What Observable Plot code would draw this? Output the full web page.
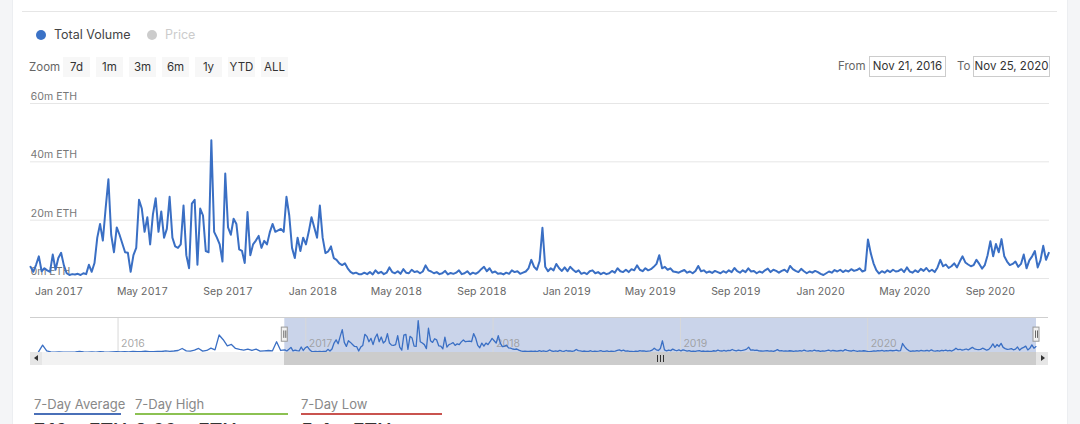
<!DOCTYPE html>
<html>
<head>
<meta charset="utf-8">
<script src="https://cdn.jsdelivr.net/npm/d3@7"></script>
<script src="https://cdn.jsdelivr.net/npm/@observablehq/plot@0.6"></script>
<style>
html,body{margin:0;padding:0;}
body{width:1080px;height:424px;overflow:hidden;position:relative;background:#fff;font-family:Inter,"Open Sans",sans-serif;}
.abs{position:absolute;}
#bgL{left:0;top:0;width:12px;height:424px;background:#f4f5f7;border-right:1px solid #eceef1;}
#bgR{left:1067px;top:0;width:13px;height:424px;background:#f4f5f7;border-left:1px solid #eceef1;}
#topline{left:22px;top:11px;width:1035px;height:1px;background:#e6e6e6;}
.dot{width:10px;height:10px;border-radius:50%;}
.lg{font-size:12.5px;line-height:16px;}
.btn{top:57px;height:20px;width:27px;background:#f7f7f7;font-size:11.5px;line-height:20px;text-align:center;color:#333;}
.lbl{font-size:11.5px;color:#666;line-height:20px;top:55px;}
.box{top:56px;height:19px;width:75px;border:1px solid #cccccc;font-size:11.5px;line-height:19px;text-align:center;color:#333;background:#fff;}
.bl{font-size:13px;color:#888;top:396px;line-height:16px;}
.ul{top:413px;height:2px;}
.big{font-size:19px;font-weight:600;color:#333;top:419px;line-height:24px;}
#main{left:0;top:90px;}
#nav{left:0;top:310px;}
</style>
</head>
<body>
<div id="bgL" class="abs"></div>
<div id="bgR" class="abs"></div>
<div id="topline" class="abs"></div>

<div class="abs dot" style="left:36px;top:30px;background:#3b72c6"></div>
<div class="abs lg" style="left:54px;top:27px;color:#444">Total Volume</div>
<div class="abs dot" style="left:147px;top:30px;background:#cccccc"></div>
<div class="abs lg" style="left:165px;top:27px;color:#cccccc">Price</div>

<div class="abs lbl" style="left:29px;top:57px">Zoom</div>
<div id="buttons"></div>

<div class="abs lbl" style="left:838px;top:56px">From</div>
<div class="abs box" id="fromBox" style="left:869px"></div>
<div class="abs lbl" style="left:957px;top:56px">To</div>
<div class="abs box" id="toBox" style="left:973px"></div>

<div id="main" class="abs"></div>
<div id="nav" class="abs"></div>
<div id="navDeco"></div>

<div id="bottomLegend"></div>

<script>
// ---------- data ----------
const rangeFrom = "2016-11-21";
const rangeTo = "2020-11-25";
const navFrom = "2015-07-30";
const stepDays = 4;      // main series sampling
const navStepDays = 8;   // early (pre-range) navigator series sampling

// Total volume, millions of ETH, every 4 days from Nov 21, 2016
const volume = [
  4, 2.3, 4.7, 7.6, 2.5, 3.5, 2.8, 2.3, 8.2, 3,
  7, 8.8, 4.5, 1.8, 1.2, 1.5, 1.4, 1.6, 1.2, 1.8,
  1.5, 4.7, 2.3, 5.3, 14, 18.7, 13, 24, 34, 15,
  9, 17.5, 15, 12, 9, 8.8, 2.3, 8, 10.5, 27,
  24, 16, 21, 11.7, 22, 27.5, 16, 23, 14, 17,
  28, 14, 11, 10.5, 11.7, 25, 8, 3.5, 25.7, 27,
  4.7, 24, 21.6, 9.4, 9, 47.4, 16, 14, 11.7, 5.8,
  36, 17.5, 15, 20.5, 18.7, 10, 9.5, 5.3, 22.8, 8,
  11.7, 13, 14.6, 10.5, 12.9, 11.7, 15.8, 18.7, 16, 16.5,
  17, 16, 28, 21.6, 10.5, 7, 14, 9.4, 14, 11.7,
  16, 21, 17.5, 14, 25, 14, 8.7, 9.3, 11, 7,
  6.4, 5.2, 4.6, 5.2, 3.5, 2.3, 1.7, 2, 1.5,
  1.5, 2, 1.5, 2.2, 1.4, 2.8, 1.8, 2.3, 1.5, 2,
  3.8, 2.2, 1.8, 2.5, 1.6, 3.2, 2, 1.8, 3, 2.2,
  2.5, 1.8, 2.4, 4.5, 2.8, 2.4, 1.8, 2.2, 1.5, 1.8,
  2.6, 1.4, 1.9, 1.6, 2, 2.8, 1.5, 1.8, 2.5, 1.4,
  2, 1.6, 2.2, 3.2, 4, 2.5, 3.5, 2, 2.4, 1.6,
  1.8, 1.4, 2, 1.6, 2.8, 2.2, 2.5, 1.6, 2, 2.4,
  3.5, 6.4, 4, 3, 6, 17.4, 4, 2.5, 3.5, 2.8,
  5, 3.5, 2.6, 3.8, 2.5, 4, 3, 2.2, 2.8, 1.6,
  2, 1.5, 2.5, 2.8, 1.8, 2.2, 1.5, 2, 1.5, 1.8,
  2.6, 2, 3.5, 2.5, 2.2, 3, 2.2, 3.2, 2.8, 4.5,
  3, 2.5, 3.5, 2.8, 3.2, 4, 5, 8, 3.5, 4,
  3, 3.5, 2.4, 2.2, 2,
  2.5, 2.9, 2, 2.4, 1.8, 2.6, 4.3, 2.5, 2.8, 2,
  2.4, 1.9, 2.6, 2.2, 1.8, 2.5, 2.0, 2.8, 2.2, 3.6,
  2.5, 2.0, 2.8, 2.2, 3.5, 2.4, 2.6, 1.8, 2.4, 2.0,
  2.8, 3.4, 2.2, 3.0, 2.6, 2.0, 2.6, 3.0, 2.2, 4.3,
  3.2, 2.6, 2.2, 3.3, 2.5, 1.8, 2.4, 2.0, 2.6, 2.2,
  1.6, 1.2, 1.8, 2.4, 2.0, 2.9, 2.4, 3.0, 2.2, 2.8,
  2.4, 3.2, 2.6, 2.9, 3.5, 2.4, 2.8, 13.4, 8.7, 5.2,
  2.9, 1.7, 2.5, 2.0, 2.8, 2.2, 3.0, 2.4, 2.6, 3.2,
  2.2, 3.8, 2.4, 2.0, 2.8, 2.2, 3.3, 2.6, 3.6, 2.4,
  3.0, 2.2, 3.8, 6.4, 4.2, 4.8, 3.6, 4.2, 5.2, 3.8,
  5.8, 7.6, 5.5, 4.8, 4.2, 4.6, 6.4, 5.0, 3.4, 4.6,
  8.0, 12.8, 7.6, 11.8, 9.0, 13.5, 7.6, 5.8, 4.6, 5.0,
  5.8, 4.0, 5.0, 8.2, 3.5, 6.2, 7.6, 9.4, 3.8, 6.2,
  11.2, 6.4, 8.8
];

// Navigator only: volume before the selected range, every 8 days from Jul 30, 2015
const earlyVolume = [
  1.0, 11, 2.5, 1.0, 0.6, 0.8, 0.5, 0.7, 0.6, 1.0,
  1.8, 0.8, 0.6, 0.9, 0.7, 1.2, 0.8, 0.6, 1.0, 1.4,
  1.0, 1.2, 0.9, 1.5, 1.1, 1.3, 2.0, 1.4, 1.2, 1.8,
  1.5, 2.5, 1.8, 2.2, 3.0, 6.0, 2.5, 2.0, 3.5, 6.0,
  2.0, 3.0, 6.5, 4.0, 26, 19, 10, 12, 6, 4.5,
  3.5, 5, 3, 5, 2, 2.5, 3, 2.5, 16, 3
];

const yTicks = [0, 20, 40, 60];
const xTickDates = ["2017-01-01","2017-05-01","2017-09-01","2018-01-01","2018-05-01","2018-09-01",
                    "2019-01-01","2019-05-01","2019-09-01","2020-01-01","2020-05-01","2020-09-01"];
const navYears = ["2016-01-01","2017-01-01","2018-01-01","2019-01-01","2020-01-01"];
const zoomButtons = ["7d","1m","3m","6m","1y","YTD","ALL"];
const statLabels = ["7-Day Average","7-Day High","7-Day Low"];
const statValues = ["7.16m ETH","9.66m ETH","5.4m ETH"];
const statColors = ["#4a70b8","#8cc152","#c9534f"];

// ---------- build ----------
const DAY = 864e5;
const t0 = new Date(rangeFrom), t1 = new Date(rangeTo), tn = new Date(navFrom);
const data = volume.map((v, i) => ({date: new Date(+t0 + i * stepDays * DAY), value: v}));
const navData = earlyVolume.map((v, i) => ({date: new Date(+tn + i * navStepDays * DAY), value: v})).concat(data);
const blue = "#3a6fc4";
const fmtBox = d3.utcFormat("%b %-d, %Y");

document.getElementById("fromBox").textContent = fmtBox(t0);
document.getElementById("toBox").textContent = fmtBox(t1);

const btns = document.getElementById("buttons");
zoomButtons.forEach((b, i) => {
  const el = document.createElement("div");
  el.className = "abs btn";
  el.style.left = (63 + i * 33) + "px";
  el.textContent = b;
  btns.appendChild(el);
});

const main = Plot.plot({
  width: 1080, height: 210,
  marginLeft: 30, marginRight: 31, marginTop: 13, marginBottom: 22,
  x: {type: "utc", domain: [t0, t1]},
  y: {domain: [0, 60]},
  style: {fontFamily: "Inter, sans-serif", fontSize: "10.5px", color: "#666", background: "transparent", overflow: "visible"},
  marks: [
    Plot.gridY(yTicks, {stroke: "#e6e6e6", strokeOpacity: 1}),
    Plot.axisY(yTicks, {tickSize: 0, tickPadding: 0, textAnchor: "start", dy: -7, fill: "#777",
                        tickFormat: d => `${d}m ETH`, label: null}),
    Plot.axisX(xTickDates.map(d => new Date(d)), {tickSize: 0, tickPadding: 9, fill: "#666",
                        tickFormat: d3.utcFormat("%b %Y"), label: null}),
    Plot.lineY(data, {x: "date", y: "value", stroke: blue, strokeWidth: 2, strokeLinejoin: "round"})
  ]
});
document.getElementById("main").appendChild(main);

const handles = [t0, t1];
const nav = Plot.plot({
  width: 1080, height: 50,
  marginLeft: 38, marginRight: 44, marginTop: 7, marginBottom: 8,
  x: {type: "utc", domain: [tn, t1]},
  y: {domain: [0, 52]},
  style: {fontFamily: "Inter, sans-serif", fontSize: "10.5px", color: "#999", background: "transparent", overflow: "visible"},
  axis: null,
  marks: [
    Plot.rect([{a: t0, b: t1}], {x1: "a", x2: "b", fill: "#6685c2", fillOpacity: 0.35}),
    Plot.ruleX(navYears.map(d => new Date(d)), {stroke: "#d8d8d8"}),
    Plot.text(navYears.map(d => new Date(d)), {x: d => d, text: d => String(d.getUTCFullYear()),
              frameAnchor: "bottom", dy: -6, dx: 3, textAnchor: "start", fill: "#999", fillOpacity: 0.85}),
    Plot.lineY(navData, {x: "date", y: "value", stroke: blue, strokeWidth: 1.3}),
    Plot.rect(handles, {x1: d => d, x2: d => d, y1: 16, y2: 37, insetLeft: -3, insetRight: -3,
              fill: "#f2f2f2", stroke: "#999", strokeWidth: 1}),
    Plot.ruleX(handles, {x: d => d, y1: 21, y2: 32, dx: -1, stroke: "#444", strokeWidth: 0.8}),
    Plot.ruleX(handles, {x: d => d, y1: 21, y2: 32, dx: 1, stroke: "#444", strokeWidth: 0.8})
  ]
});
document.getElementById("nav").appendChild(nav);

// navigator outline and scrollbar, positioned from the navigator's x scale
const nx = nav.scale("x");
const xa = nx.apply(t0), xb = nx.apply(t1);
const deco = document.getElementById("navDeco");
function box(css) { const el = document.createElement("div"); el.className = "abs"; el.style.cssText = css; deco.appendChild(el); return el; }
box(`left:30px;top:317px;width:1018px;height:1px;background:#cfcfcf;`);
box(`left:30px;top:352px;width:1018px;height:13px;background:#f2f2f2;`);
box(`left:${xa}px;top:352px;width:${xb - xa}px;height:13px;background:#cccccc;`);
box(`left:30px;top:352px;width:12px;height:13px;background:#e6e6e6;`);
box(`left:1036px;top:352px;width:12px;height:13px;background:#e6e6e6;`);
box(`left:34px;top:355px;width:0;height:0;border-top:3.5px solid transparent;border-bottom:3.5px solid transparent;border-right:4px solid #333;`);
box(`left:1041px;top:355px;width:0;height:0;border-top:3.5px solid transparent;border-bottom:3.5px solid transparent;border-left:4px solid #333;`);
const gx = (xa + xb) / 2;
[-3, 0, 3].forEach(o => box(`left:${gx + o - 0.5}px;top:355px;width:1px;height:7px;background:#333;`));

// bottom stats legend
const bl = document.getElementById("bottomLegend");
const lefts = [34, 135, 301], widths = [87, 153, 141];
statLabels.forEach((s, i) => {
  const t = document.createElement("div"); t.className = "abs bl"; t.style.left = lefts[i] + "px"; t.textContent = s; bl.appendChild(t);
  const u = document.createElement("div"); u.className = "abs ul"; u.style.left = lefts[i] + "px"; u.style.width = widths[i] + "px"; u.style.background = statColors[i]; bl.appendChild(u);
  const v = document.createElement("div"); v.className = "abs big"; v.style.left = lefts[i] + "px"; v.textContent = statValues[i]; bl.appendChild(v);
});
</script>
</body>
</html>
